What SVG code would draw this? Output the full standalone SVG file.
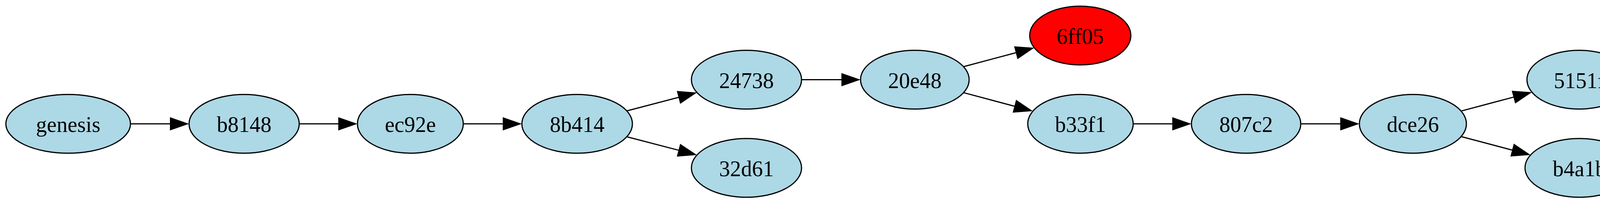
<svg xmlns="http://www.w3.org/2000/svg" width="5893" height="521" viewBox="0 0 5893 521">
<style>
.n ellipse{fill:#add8e6;stroke:#000;stroke-width:3}
.n.red ellipse{fill:#ff0000}
.n text{font-family:"Liberation Serif","Times New Roman",serif;font-size:56px;text-anchor:middle;fill:#000}
#edges path{fill:none;stroke:#000;stroke-width:3;marker-end:url(#ah)}
</style>
<defs>
<marker id="ah" markerUnits="userSpaceOnUse" markerWidth="50" markerHeight="34" refX="0" refY="17" orient="auto" overflow="visible">
<path d="M0,0 L49,17 L0,34 Z" fill="#000"/>
</marker>
</defs>
<rect width="5893" height="521" fill="#fff"/>
<g id="edges">
<path d="M334,316.2 L435,316.2"/>
<path d="M766,316.2 L866,316.2"/>
<path d="M1186,316.2 L1287,316.2"/>
<path d="M1604.6,283.2 L1736.9,248.7"/>
<path d="M1604.6,349.2 L1736.9,383.6"/>
<path d="M2052,203.5 L2154,203.5"/>
<path d="M2466.7,170.3 L2600.4,134.7"/>
<path d="M2466.7,236.6 L2596.8,271.2"/>
<path d="M2901,316.2 L3001,316.2"/>
<path d="M3330,316.2 L3431,316.2"/>
<path d="M3740.4,283.6 L3874.4,248.1"/>
<path d="M3740.4,348.8 L3870.9,383.2"/>
<path d="M4177,203.5 L4284,203.5"/>
<path d="M4607,203.5 L4708,203.5"/>
<path d="M5035,203.5 L5137,203.5"/>
<path d="M5455,203.5 L5557,203.5"/>
</g>
<g id="genesis" class="n"><ellipse cx="174.5" cy="316.2" rx="159.5" ry="75"/><text x="174.5" y="337.2">genesis</text></g>
<g id="b8148" class="n"><ellipse cx="625" cy="316.2" rx="141" ry="75"/><text x="625" y="337.2">b8148</text></g>
<g id="ec92e" class="n"><ellipse cx="1050.5" cy="316.2" rx="135.5" ry="75"/><text x="1050.5" y="337.2">ec92e</text></g>
<g id="8b414" class="n"><ellipse cx="1477.5" cy="316.2" rx="141.5" ry="75"/><text x="1477.5" y="337.2">8b414</text></g>
<g id="24738" class="n"><ellipse cx="1911" cy="203.5" rx="141" ry="75"/><text x="1911" y="224.5">24738</text></g>
<g id="32d61" class="n"><ellipse cx="1911" cy="428.8" rx="141" ry="75"/><text x="1911" y="449.8">32d61</text></g>
<g id="20e48" class="n"><ellipse cx="2342" cy="203.5" rx="139" ry="75"/><text x="2342" y="224.5">20e48</text></g>
<g id="6ff05" class="n red"><ellipse cx="2765.5" cy="90.8" rx="129.5" ry="75"/><text x="2765.5" y="111.8">6ff05</text></g>
<g id="b33f1" class="n"><ellipse cx="2766" cy="316.2" rx="135" ry="75"/><text x="2766" y="337.2">b33f1</text></g>
<g id="807c2" class="n"><ellipse cx="3190" cy="316.2" rx="140" ry="75"/><text x="3190" y="337.2">807c2</text></g>
<g id="dce26" class="n"><ellipse cx="3617" cy="316.2" rx="137" ry="75"/><text x="3617" y="337.2">dce26</text></g>
<g id="5151f" class="n"><ellipse cx="4043" cy="203.5" rx="134" ry="75"/><text x="4043" y="224.5">5151f</text></g>
<g id="b4a1b" class="n"><ellipse cx="4043.5" cy="428.8" rx="139.5" ry="75"/><text x="4043.5" y="449.8">b4a1b</text></g>
<g id="ee378" class="n"><ellipse cx="4470" cy="203.5" rx="137" ry="75"/><text x="4470" y="224.5">ee378</text></g>
<g id="632e6" class="n"><ellipse cx="4896" cy="203.5" rx="139" ry="75"/><text x="4896" y="224.5">632e6</text></g>
<g id="067bf" class="n"><ellipse cx="5320.5" cy="203.5" rx="134.5" ry="75"/><text x="5320.5" y="224.5">067bf</text></g>
<g id="6274f" class="n"><ellipse cx="5741.5" cy="203.5" rx="135.5" ry="75"/><text x="5741.5" y="224.5">6274f</text></g>
</svg>
